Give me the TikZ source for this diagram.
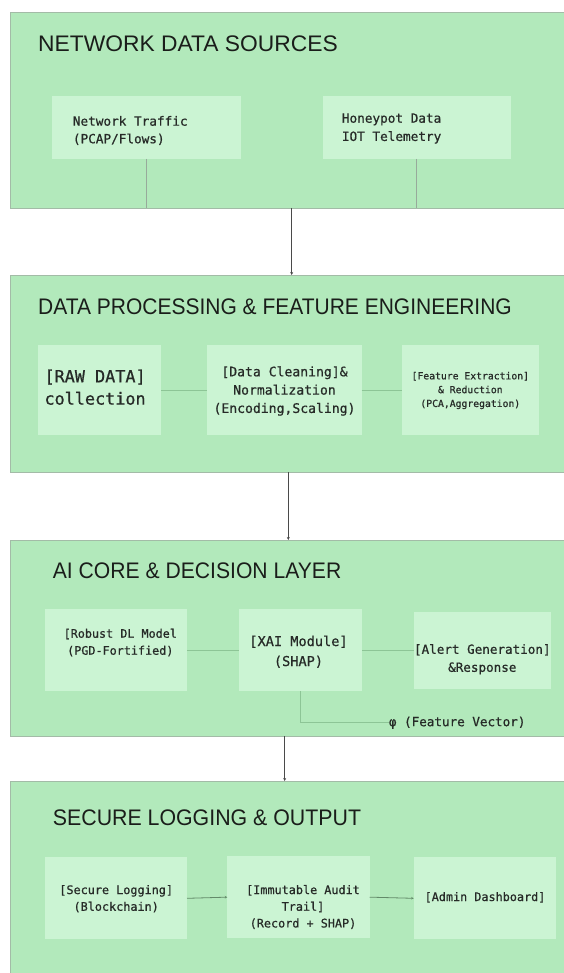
\documentclass[tikz,border=0pt]{standalone}
\usepackage{fontspec}
\usepackage{graphicx}
\setmainfont{Liberation Sans}
\newfontfamily\monof[FakeBold=0.7]{DejaVu Sans Mono}
\usetikzlibrary{arrows.meta}
\definecolor{panelfill}{HTML}{B2E9BB}
\definecolor{panelline}{HTML}{A3BBA7}
\definecolor{boxfill}{HTML}{CBF4D3}
\definecolor{linkcol}{HTML}{8DC596}
\definecolor{graylink}{HTML}{98AA9B}
\definecolor{titlecol}{HTML}{1A1D1A}
\definecolor{txtcol}{HTML}{262A27}
\definecolor{arrcol}{HTML}{4A4A4A}
\begin{document}
\begin{tikzpicture}[x=1pt,y=-1pt,
  panel/.style={draw=panelline, line width=0.9pt, fill=panelfill, inner sep=0pt, outer sep=0pt, minimum width=563pt},
  box/.style={draw=none, fill=boxfill, inner sep=0pt, outer sep=0pt},
  ttl/.style={anchor=west, inner sep=0pt, text=titlecol, font=\fontsize{22.5}{27}\selectfont},
  txt/.style={inner sep=0pt, text=txtcol},
  link/.style={draw=linkcol, line width=0.9pt},
  vlink/.style={draw=graylink, line width=0.8pt},
  parr/.style={draw=arrcol, line width=0.9pt, -{Stealth[length=3pt,width=3pt]}},
  sarr/.style={draw=linkcol!70!black, line width=0.8pt, -{Stealth[length=2.5pt,width=2.5pt]}}
]
\useasboundingbox (0,0) rectangle (564,973);
\clip (0,0) rectangle (564,973);
\fill[white] (0,0) rectangle (564,973);

% ---------- panels ----------
\node[panel, minimum height=196pt] (p1) at (291.5,110) {};
\node[panel, minimum height=197pt] (p2) at (291.5,373.5) {};
\node[panel, minimum height=196pt] (p3) at (291.5,638) {};
\node[panel, minimum height=204pt] (p4) at (291.5,883) {};

% ---------- titles ----------
\node[ttl] (t1) at (38,43.3) {\scalebox{1.014}[1]{NETWORK DATA SOURCES}};
\node[ttl] (t2) at (38,307) {\scalebox{0.933}[1]{DATA PROCESSING \& FEATURE ENGINEERING}};
\node[ttl] (t3) at (52.7,571) {\scalebox{0.939}[1]{AI CORE \& DECISION LAYER}};
\node[ttl] (t4) at (52.7,818) {\scalebox{0.948}[1]{SECURE LOGGING \& OUTPUT}};

% ---------- panel 1 ----------
\node[box, minimum width=189pt, minimum height=63pt] (A) at (146.5,127.5) {};
\node[box, minimum width=188pt, minimum height=63pt] (B) at (416.7,127.5) {};
\node[txt, anchor=west, align=left, font=\monof\fontsize{12.7}{17.6}\selectfont] (tA) at (72.7,130.5) {Network Traffic\\(PCAP/Flows)};
\node[txt, anchor=west, align=left, font=\monof\fontsize{12.7}{18.2}\selectfont] (tB) at (341.7,128.5) {Honeypot Data\\IOT Telemetry};
\draw[vlink] (A.south) -- (A.south |- p1.south);
\draw[vlink] (B.south) -- (B.south |- p1.south);

% ---------- panel 2 ----------
\node[box, minimum width=123.3pt, minimum height=90pt] (C) at (99.35,390) {};
\node[box, minimum width=154.4pt, minimum height=90pt] (D) at (284.5,390) {};
\node[box, minimum width=137pt, minimum height=90pt] (E) at (470.5,390) {};
\node[txt, anchor=west, align=left, font=\monof\fontsize{16.8}{22.3}\selectfont] (tC) at (44.3,387.2) {[RAW DATA]\\collection};
\node[txt, align=center, font=\monof\fontsize{13.1}{18.3}\selectfont] (tD) at (284.5,391) {[Data Cleaning]\&\\Normalization\\(Encoding,Scaling)};
\node[txt, align=center, font=\monof\fontsize{9.75}{13.8}\selectfont] (tE) at (470.3,390.5) {[Feature Extraction]\\\& Reduction\\(PCA,Aggregation)};
\draw[link] (C.east) -- (D.west);
\draw[link] (D.east) -- (E.west);

% ---------- panel 3 ----------
\node[box, minimum width=141.7pt, minimum height=81.7pt] (F) at (116.15,650.15) {};
\node[box, minimum width=122.7pt, minimum height=81.7pt] (G) at (300.65,650.15) {};
\node[box, minimum width=137.3pt, minimum height=77.3pt] (H) at (482.35,650.35) {};
\node[txt, align=center, font=\monof\fontsize{11.76}{17}\selectfont] (tF) at (120.3,642.5) {[Robust DL Model\\(PGD-Fortified)};
\node[txt, align=center, font=\monof\fontsize{13.6}{20}\selectfont] (tG) at (298.5,651.7) {[XAI Module]\\(SHAP)};
\node[txt, align=center, font=\monof\fontsize{12.6}{18}\selectfont] (tH) at (482.3,659.3) {[Alert Generation]\\\&Response};
\node[txt, anchor=west, font=\monof\fontsize{12.6}{16}\selectfont] (phi) at (388.7,722.7) {φ (Feature Vector)};
\draw[link] (F.east) -- (F.east -| G.west);
\draw[link] (G.east) -- (G.east -| H.west);
\draw[link] (G.south) |- (phi.west);

% ---------- panel 4 ----------
\node[box, minimum width=142.3pt, minimum height=82pt] (I) at (115.85,898.3) {};
\node[box, minimum width=142.4pt, minimum height=82.3pt] (J) at (298.5,897.15) {};
\node[box, minimum width=142.3pt, minimum height=82pt] (K) at (484.85,898.3) {};
\node[txt, align=center, font=\monof\fontsize{11.8}{16.7}\selectfont] (tI) at (116.2,898.7) {[Secure Logging]\\(Blockchain)};
\node[txt, align=center, font=\monof\fontsize{11.8}{16.7}\selectfont] (tJ) at (303,907) {[Immutable Audit\\Trail]\\(Record + SHAP)};
\node[txt, align=center, font=\monof\fontsize{11.8}{16.7}\selectfont] (tK) at (485,897.3) {[Admin Dashboard]};
\draw[sarr] (I.east) -- (J.west);
\draw[sarr] (J.east) -- (K.west);

% ---------- arrows between panels ----------
\coordinate (a1) at (291.7,0);
\coordinate (a2) at (288.3,0);
\coordinate (a3) at (284.7,0);
\draw[parr] (p1.south -| a1) -- (p2.north -| a1);
\draw[parr] (p2.south -| a2) -- (p3.north -| a2);
\draw[parr] (p3.south -| a3) -- (p4.north -| a3);
\end{tikzpicture}
\end{document}
